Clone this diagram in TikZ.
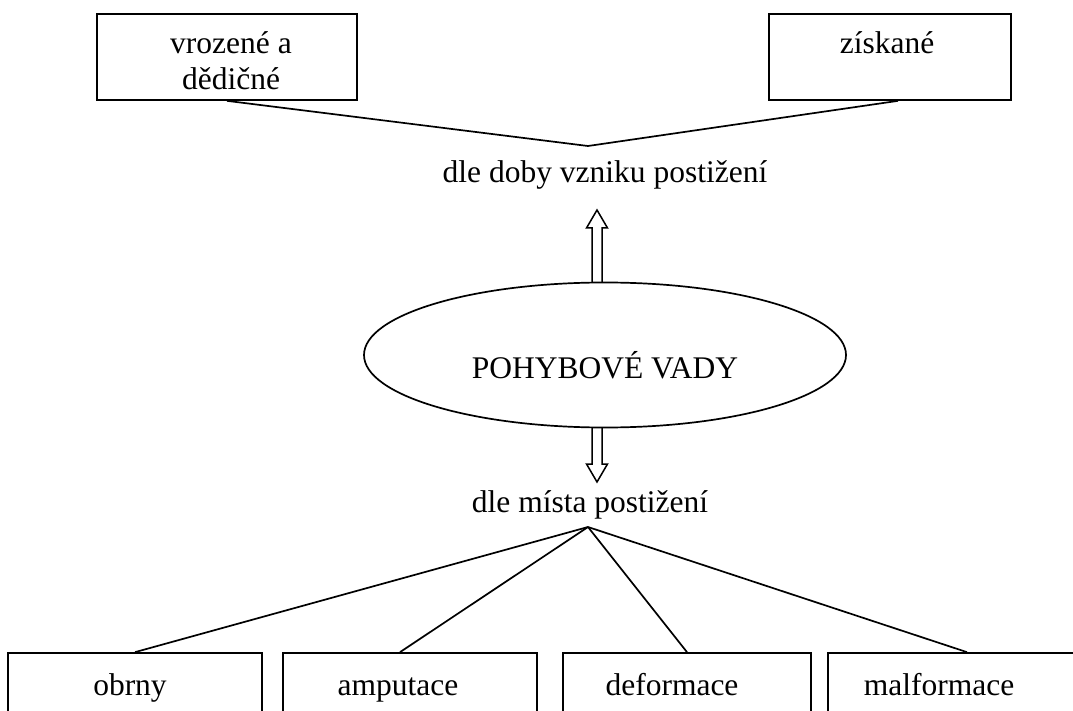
\documentclass[tikz,border=0pt]{standalone}
\usepackage{fontspec}
\setmainfont{Liberation Serif}
\usetikzlibrary{shapes.geometric,calc}
\begin{document}
\begin{tikzpicture}[x=1pt,y=-1pt,
  box/.style={draw, rectangle, inner sep=0pt, line width=1.7pt},
  oval/.style={draw, ellipse, inner sep=0pt, line width=1.7pt},
  lbl/.style={anchor=base, inner sep=0pt, font=\fontsize{31.5}{36}\selectfont},
  conn/.style={line width=1.7pt},
  hollow/.style={line width=1.5pt, line join=miter}]
\useasboundingbox (0,0) rectangle (1073,711);
\clip (0,0) rectangle (1073,711);
% top boxes
\node[box, minimum width=260pt, minimum height=86pt] (vroz) at (227,57) {};
\node[lbl, align=center] (tvroz) at (231,90) {vrozené a\\dědičné};
\node[box, minimum width=242pt, minimum height=86pt] (zisk) at (890,57) {};
\node[lbl] (tzisk) at (887,54) {získané};
\coordinate (apex1) at (588,146);
\draw[conn] (vroz.south) -- (apex1) -- ([xshift=8pt]zisk.south);
\node[lbl] (doba) at (605,183) {dle doby vzniku postižení};
% ellipse
\node[oval, minimum width=482pt, minimum height=145pt] (pv) at (605,355) {};
\node[lbl] (tpv) at (605,378) {POHYBOVÉ VADY};
% up arrow
\coordinate (upbase) at (597,283);
\coordinate (uptip) at (597,210);
\draw[hollow] ($(upbase)+(-5,0)$) -- ($(uptip)+(-5,18)$) -- ($(uptip)+(-10.5,18)$) -- (uptip) -- ($(uptip)+(10.5,18)$) -- ($(uptip)+(5,18)$) -- ($(upbase)+(5,0)$);
% down arrow
\coordinate (dnbase) at (597,427);
\coordinate (dntip) at (597,482);
\draw[hollow] ($(dnbase)+(-5,0)$) -- ($(dntip)+(-5,-18)$) -- ($(dntip)+(-10.5,-18)$) -- (dntip) -- ($(dntip)+(10.5,-18)$) -- ($(dntip)+(5,-18)$) -- ($(dnbase)+(5,0)$);
\node[lbl] (misto) at (590,512) {dle místa postižení};
\coordinate (apex2) at (588,527);
% bottom boxes
\node[box, minimum width=254pt, minimum height=117pt] (obrny) at (135,711.5) {};
\node[box, minimum width=254pt, minimum height=117pt] (amp) at (410,711.5) {};
\node[box, minimum width=248pt, minimum height=117pt] (def) at (687,711.5) {};
\node[box, minimum width=250pt, minimum height=117pt] (malf) at (953,711.5) {};
\node[lbl] (tobrny) at (130,695) {obrny};
\node[lbl] (tamp) at (398,695) {amputace};
\node[lbl] (tdef) at (672,695) {deformace};
\node[lbl] (tmalf) at (939,695) {malformace};
\draw[conn] (apex2) -- (obrny.north);
\draw[conn] (apex2) -- ([xshift=-10pt]amp.north);
\draw[conn] (apex2) -- (def.north);
\draw[conn] (apex2) -- ([xshift=14pt]malf.north);
\end{tikzpicture}
\end{document}
